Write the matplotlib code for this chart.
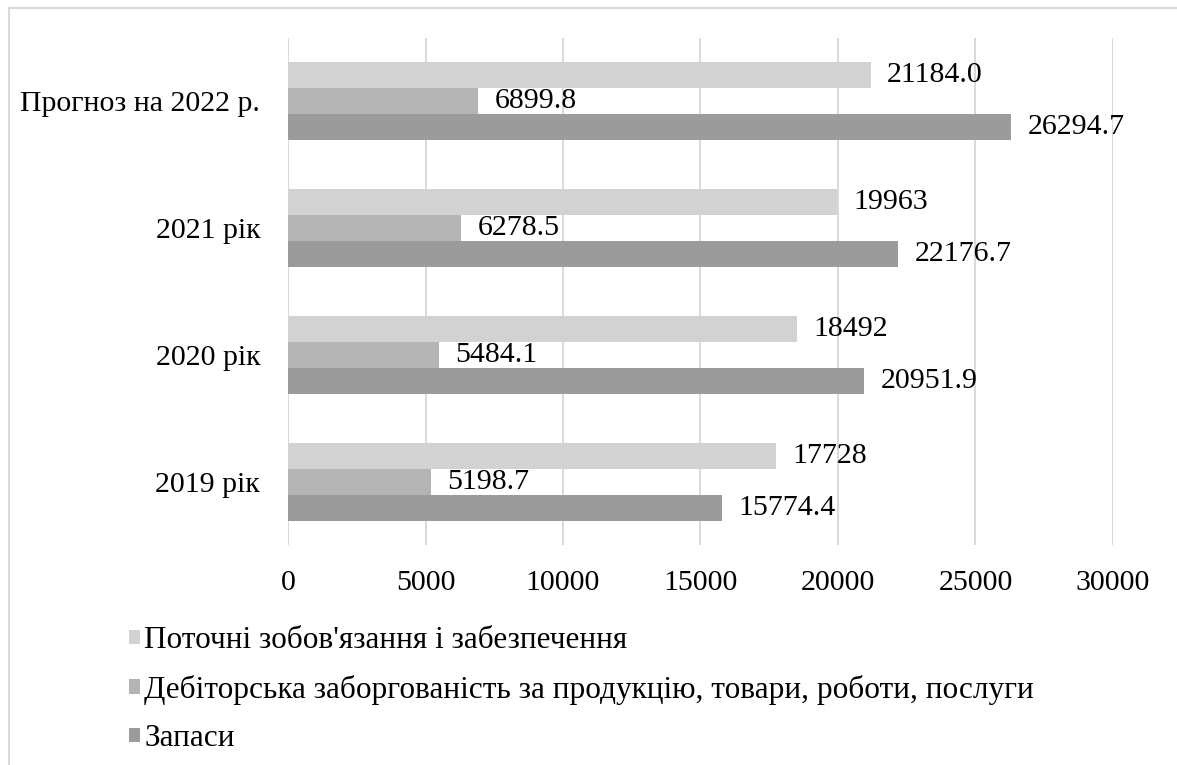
import matplotlib.pyplot as plt
import numpy as np
from matplotlib.lines import Line2D

plt.rcParams["font.family"] = ["Liberation Serif", "DejaVu Serif"]

categories = ["2019 рік", "2020 рік", "2021 рік", "Прогноз на 2022 р."]

liabilities = [17728, 18492, 19963, 21184.0]
liabilities_text = ["17728", "18492", "19963", "21184.0"]
receivables = [5198.7, 5484.1, 6278.5, 6899.8]
inventories = [15774.4, 20951.9, 22176.7, 26294.7]

series_names = [
    "Поточні зобов'язання і забезпечення",
    "Дебіторська заборгованість за продукцію, товари, роботи, послуги",
    "Запаси",
]
colors = ["#d2d2d2", "#b4b4b4", "#9b9b9b"]

fig = plt.figure(figsize=(11.77, 7.65), dpi=100)
ax = fig.add_axes([0.2447, 0.2876, 0.7009, 0.6627])

y = np.arange(len(categories))
h = 0.205

b1 = ax.barh(y + h, liabilities, height=h, color=colors[0], label=series_names[0], zorder=2)
b2 = ax.barh(y, receivables, height=h, color=colors[1], label=series_names[1], zorder=2)
b3 = ax.barh(y - h, inventories, height=h, color=colors[2], label=series_names[2], zorder=2)

fs = 21.5
ax.bar_label(b1, labels=liabilities_text, padding=12, fontsize=fs)
ax.bar_label(b2, labels=[f"{v:.1f}" for v in receivables], padding=12, fontsize=fs)
ax.bar_label(b3, labels=[f"{v:.1f}" for v in inventories], padding=12, fontsize=fs)

ax.set_xlim(0, 30000)
ax.set_ylim(-0.5, 3.5)
ax.set_xticks(np.arange(0, 30001, 5000))
ax.set_yticks(y)
ax.set_yticklabels(categories)
ax.tick_params(axis="both", length=0, labelsize=fs)
ax.tick_params(axis="x", pad=18)
ax.tick_params(axis="y", pad=20)
ax.grid(axis="x", color="#d9d9d9", linewidth=1.4, zorder=0)
for s in ax.spines.values():
    s.set_visible(False)

fig.legend(handles=[b1, b2, b3], loc="upper left", bbox_to_anchor=(0.1098, 0.1817),
           frameon=False, fontsize=22.5, handlelength=0.33, handleheight=0.33,
           handletextpad=0.15, labelspacing=0.63, borderpad=0, borderaxespad=0)

# thin outer frame
fig.add_artist(Line2D([9 / 1177, 1.0], [1 - 8 / 765, 1 - 8 / 765], color="#d9d9d9",
                      linewidth=1.5, transform=fig.transFigure))
fig.add_artist(Line2D([9 / 1177, 9 / 1177], [0.0, 1 - 8 / 765], color="#d9d9d9",
                      linewidth=1.5, transform=fig.transFigure))

fig.savefig("out.png", dpi=100)
